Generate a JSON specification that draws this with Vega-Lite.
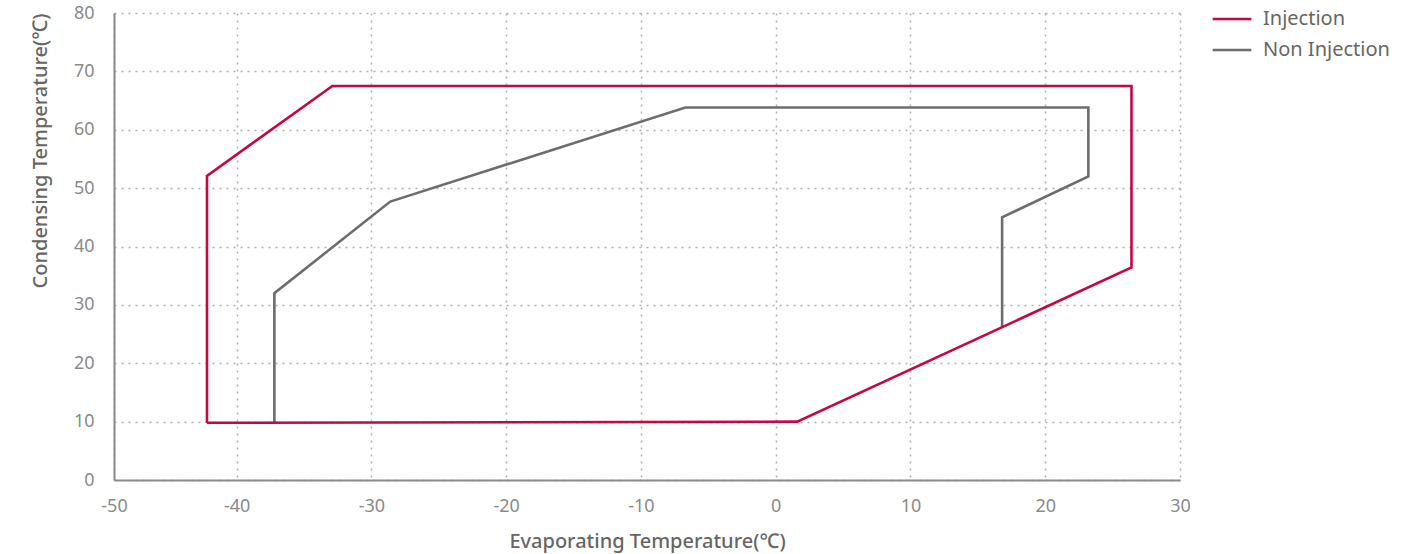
{
  "$schema": "https://vega.github.io/schema/vega-lite/v6.json",
  "width": 1066,
  "height": 467,
  "autosize": {"type": "none"},
  "padding": {"left": 114, "top": 13, "right": 241, "bottom": 74},
  "background": "white",
  "config": {
    "font": "Noto Sans",
    "view": {"stroke": null},
    "axis": {
      "grid": true,
      "gridColor": "#b0b0b0",
      "gridDash": [2, 5],
      "gridWidth": 1.5,
      "domainColor": "#8a8a8a",
      "domainWidth": 2,
      "ticks": false,
      "labelColor": "#8a8a8a",
      "labelFontSize": 18,
      "labelFont": "Noto Sans",
      "titleColor": "#666666",
      "titleFontSize": 20,
      "titleFontWeight": 500,
      "titleFont": "Noto Sans"
    }
  },
  "data": {
    "values": [
      {"series": "Non Injection", "i": 0, "x": -37.2, "y": 9.9},
      {"series": "Non Injection", "i": 1, "x": -37.2, "y": 32.0},
      {"series": "Non Injection", "i": 2, "x": -28.6, "y": 47.7},
      {"series": "Non Injection", "i": 3, "x": -6.7, "y": 63.8},
      {"series": "Non Injection", "i": 4, "x": 23.2, "y": 63.8},
      {"series": "Non Injection", "i": 5, "x": 23.2, "y": 52.0},
      {"series": "Non Injection", "i": 6, "x": 16.8, "y": 45.0},
      {"series": "Non Injection", "i": 7, "x": 16.8, "y": 26.1},
      {"series": "Injection", "i": 0, "x": -42.2, "y": 9.8},
      {"series": "Injection", "i": 1, "x": -42.2, "y": 52.1},
      {"series": "Injection", "i": 2, "x": -32.9, "y": 67.5},
      {"series": "Injection", "i": 3, "x": 26.4, "y": 67.5},
      {"series": "Injection", "i": 4, "x": 26.4, "y": 36.4},
      {"series": "Injection", "i": 5, "x": 1.6, "y": 10.0},
      {"series": "Injection", "i": 6, "x": -42.2, "y": 9.8}
    ]
  },
  "mark": {"type": "line", "strokeWidth": 2.6, "strokeJoin": "miter"},
  "encoding": {
    "x": {
      "field": "x",
      "type": "quantitative",
      "scale": {"domain": [-49.1, 30], "nice": false, "zero": false},
      "axis": {
        "values": [-49.1, -40, -30, -20, -10, 0, 10, 20, 30],
        "labelExpr": "datum.value < -49 ? '-50' : replace(datum.label, '−', '-')",
        "labelFlush": false,
        "title": "Evaporating Temperature(℃)",
        "labelPadding": 17,
        "titlePadding": 16
      }
    },
    "y": {
      "field": "y",
      "type": "quantitative",
      "scale": {"domain": [0, 80], "nice": false},
      "axis": {
        "values": [0, 10, 20, 30, 40, 50, 60, 70, 80],
        "title": "Condensing Temperature(℃)",
        "titleAnchor": "end",
        "labelPadding": 20,
        "titlePadding": 23
      }
    },
    "color": {
      "field": "series",
      "type": "nominal",
      "scale": {"domain": ["Injection", "Non Injection"], "range": ["#c8073e", "#6d6d70"]},
      "legend": {
        "title": null,
        "orient": "none",
        "legendX": 1097,
        "legendY": -15,
        "symbolType": "stroke",
        "symbolSize": 1500,
        "symbolStrokeWidth": 2.6,
        "labelFontSize": 20,
        "labelColor": "#666666",
        "labelOffset": 10,
        "rowPadding": -9
      }
    },
    "detail": {"field": "series"},
    "order": {"field": "i", "type": "quantitative"}
  }
}
